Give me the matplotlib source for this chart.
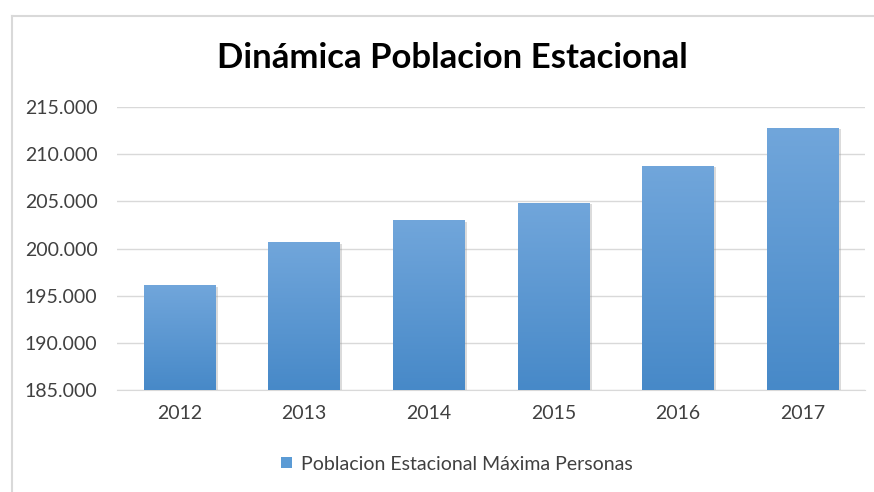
import matplotlib.pyplot as plt
import matplotlib.patheffects as pe
from matplotlib.patches import Rectangle
from matplotlib.ticker import FuncFormatter
import numpy as np

years = ['2012', '2013', '2014', '2015', '2016', '2017']
poblacion = [196100, 200650, 203000, 204850, 208750, 212800]
yticks = [185000, 190000, 195000, 200000, 205000, 210000, 215000]

plt.rcParams['font.family'] = ['Lato', 'DejaVu Sans']

fig = plt.figure(figsize=(8.74, 4.92), dpi=100)
ax = fig.add_axes([117 / 874, 1 - 390 / 492, 748 / 874, 283 / 492])

x = np.arange(len(years))
bars = ax.bar(x, poblacion, width=0.57, color='#5B9BD5', zorder=3,
              label='Poblacion Estacional Máxima Personas')

# vertical gradient on each bar, lighter on top
grad = np.linspace(0, 1, 256).reshape(-1, 1)
cmap = plt.matplotlib.colors.LinearSegmentedColormap.from_list('b', ['#4789C8', '#71A6DB'])
for b in bars:
    bx, by = b.get_x(), b.get_y()
    bw, bh = b.get_width(), b.get_height()
    b.set_path_effects([pe.SimplePatchShadow(offset=(2, -1), shadow_rgbFace='#999999', alpha=0.35),
                        pe.Normal()])
    im = ax.imshow(grad, extent=[bx, bx + bw, 185000, by + bh], origin='lower',
                   aspect='auto', cmap=cmap, zorder=4)
    im.set_clip_path(b)

ax.set_xlim(-0.5, len(years) - 0.5)
ax.set_ylim(185000, 215000)
ax.set_yticks(yticks)
ax.yaxis.set_major_formatter(FuncFormatter(lambda v, p: f'{int(v):,}'.replace(',', '.')))
ax.set_xticks(x)
ax.set_xticklabels(years)
ax.grid(axis='y', color='#D9D9D9', linewidth=1, zorder=0)
ax.tick_params(axis='both', length=0, labelsize=14, labelcolor='#404040')
ax.tick_params(axis='y', pad=14)
ax.tick_params(axis='x', pad=11)
for s in ['top', 'right', 'left']:
    ax.spines[s].set_visible(False)
ax.spines['bottom'].set_color('#D9D9D9')

fig.text(0.518, 1 - 58 / 492, 'Dinámica Poblacion Estacional', ha='center', va='center',
         fontsize=25, fontweight='bold', color='#000000')

handle = Rectangle((0, 0), 1, 1, facecolor='#5B9BD5')
fig.legend([handle], ['Poblacion Estacional Máxima Personas'], loc='center',
           bbox_to_anchor=(457 / 874, 1 - 464 / 492), frameon=False, fontsize=14,
           handlelength=0.55, handleheight=0.55, handletextpad=0.5, labelcolor='#404040')

# chart frame
fig.add_artist(plt.Line2D([12 / 874, 12 / 874], [0, 1 - 16 / 492], color='#D9D9D9', lw=1.5))
fig.add_artist(plt.Line2D([12 / 874, 1], [1 - 16 / 492, 1 - 16 / 492], color='#D9D9D9', lw=1.5))

fig.savefig('out.png', dpi=100)
